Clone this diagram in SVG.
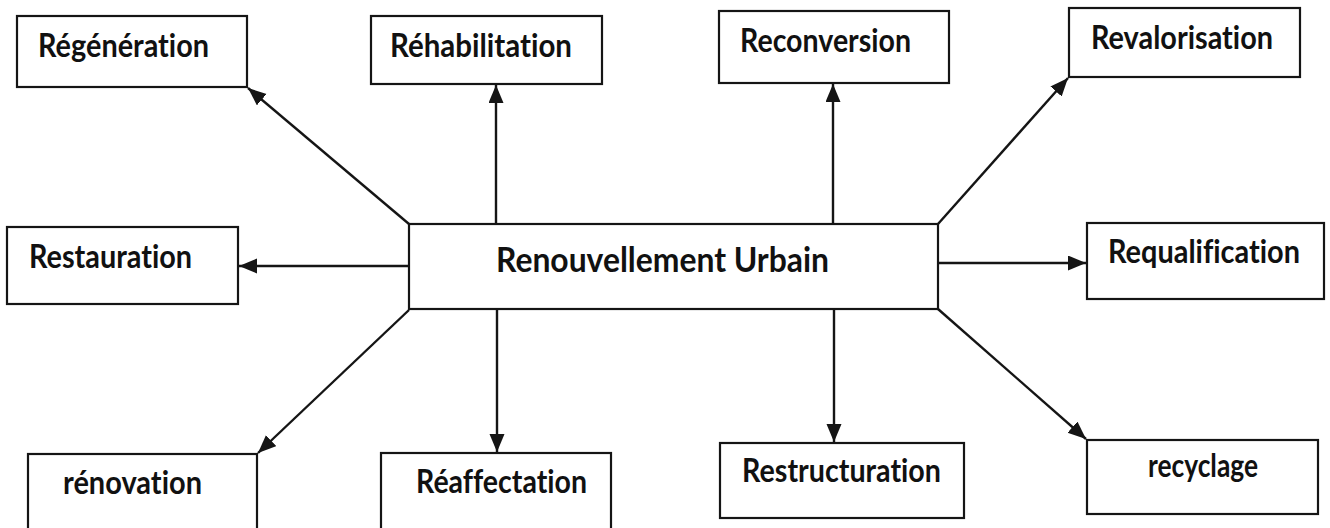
<svg xmlns="http://www.w3.org/2000/svg" width="1330" height="528" viewBox="0 0 1330 528">
  <style>
    .box { fill: #ffffff; stroke: #151515; stroke-width: 2.2; }
    .lbl { font-family: Lato, "Open Sans", "Liberation Sans", sans-serif; font-weight: bold; font-size: 32px; fill: #111111; font-variant-ligatures: none; }
    .main { font-size: 35px; }
    .link { stroke: #151515; stroke-width: 2.4; fill: none; marker-end: url(#head); }
  </style>
  <defs>
    <marker id="head" markerUnits="userSpaceOnUse" markerWidth="19" markerHeight="16" refX="18" refY="7.5" orient="auto">
      <path d="M0,0 L18,7.5 L0,15 z" fill="#151515"/>
    </marker>
  </defs>
  <rect width="1330" height="528" fill="#ffffff"/>

  <g id="connectors">
    <line class="link" x1="409" y1="224" x2="248" y2="88"/>
    <line class="link" x1="496" y1="224" x2="496" y2="85"/>
    <line class="link" x1="833" y1="224" x2="833" y2="84"/>
    <line class="link" x1="938" y1="224" x2="1068" y2="78"/>
    <line class="link" x1="409" y1="266" x2="239" y2="266"/>
    <line class="link" x1="938" y1="263" x2="1086" y2="263"/>
    <line class="link" x1="409" y1="310" x2="258" y2="453"/>
    <line class="link" x1="497" y1="310" x2="497" y2="452"/>
    <line class="link" x1="834" y1="310" x2="834" y2="442"/>
    <line class="link" x1="938" y1="309" x2="1086" y2="439"/>
  </g>

  <g id="centre">
    <rect class="box" x="409" y="224" width="529" height="85"/>
    <text class="lbl main" x="496" y="272" textLength="333" lengthAdjust="spacingAndGlyphs">Renouvellement Urbain</text>
  </g>

  <g id="regeneration">
    <rect class="box" x="17" y="16" width="230" height="71"/>
    <text class="lbl" x="38" y="57" textLength="171" lengthAdjust="spacingAndGlyphs">Régénération</text>
  </g>

  <g id="rehabilitation">
    <rect class="box" x="371" y="16" width="231" height="68"/>
    <text class="lbl" x="390" y="57" textLength="182" lengthAdjust="spacingAndGlyphs">Réhabilitation</text>
  </g>

  <g id="reconversion">
    <rect class="box" x="719" y="11" width="230" height="72"/>
    <text class="lbl" x="740" y="52" textLength="171" lengthAdjust="spacingAndGlyphs">Reconversion</text>
  </g>

  <g id="revalorisation">
    <rect class="box" x="1069" y="8" width="231" height="69"/>
    <text class="lbl" x="1091" y="49" textLength="182" lengthAdjust="spacingAndGlyphs">Revalorisation</text>
  </g>

  <g id="restauration">
    <rect class="box" x="7" y="227" width="231" height="77"/>
    <text class="lbl" x="29" y="268" textLength="163" lengthAdjust="spacingAndGlyphs">Restauration</text>
  </g>

  <g id="requalification">
    <rect class="box" x="1087" y="223" width="237" height="76"/>
    <text class="lbl" x="1108" y="263" textLength="192" lengthAdjust="spacingAndGlyphs">Requalification</text>
  </g>

  <g id="renovation">
    <rect class="box" x="28" y="454" width="229" height="84"/>
    <text class="lbl" x="63" y="494" textLength="139" lengthAdjust="spacingAndGlyphs">rénovation</text>
  </g>

  <g id="reaffectation">
    <rect class="box" x="381" y="453" width="230" height="85"/>
    <text class="lbl" x="416" y="493" textLength="171" lengthAdjust="spacingAndGlyphs">Réaffectation</text>
  </g>

  <g id="restructuration">
    <rect class="box" x="720" y="443" width="244" height="75"/>
    <text class="lbl" x="742" y="482" textLength="199" lengthAdjust="spacingAndGlyphs">Restructuration</text>
  </g>

  <g id="recyclage">
    <rect class="box" x="1087" y="440" width="231" height="74"/>
    <text class="lbl" x="1148" y="477" textLength="110" lengthAdjust="spacingAndGlyphs">recyclage</text>
  </g>
</svg>
